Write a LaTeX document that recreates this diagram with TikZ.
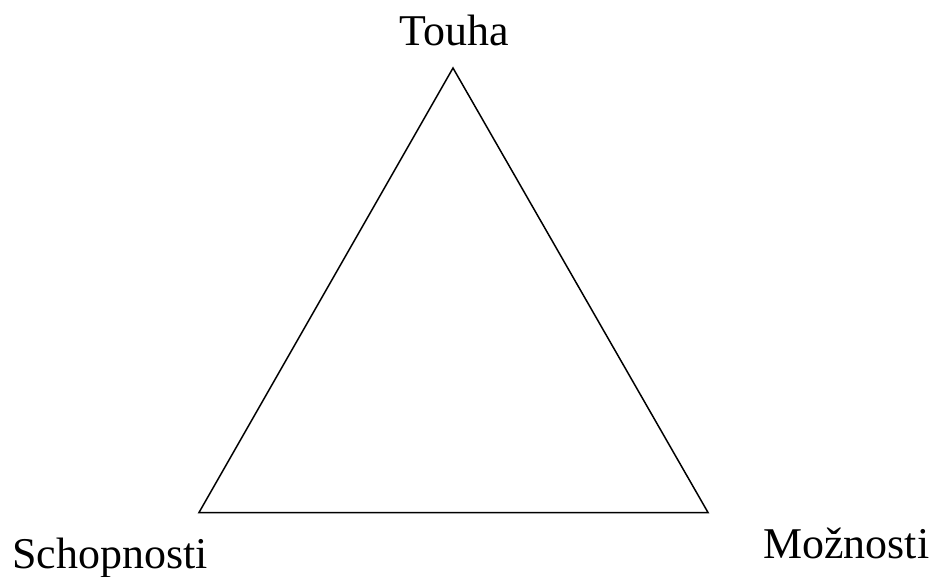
\documentclass[tikz,border=0pt]{standalone}
\usepackage{fontspec}
\setmainfont{Liberation Serif}
\usetikzlibrary{positioning}

\begin{document}
\begin{tikzpicture}[x=0.02cm, y=-0.02cm,
    vertexlabel/.style={inner sep=0pt, font=\fontsize{25}{30}\selectfont}]
  \useasboundingbox (0,0) rectangle (935,577);
  % vertices of the triangle
  \coordinate (top) at (453,68);
  \coordinate (left) at (199,512.5);
  \coordinate (right) at (708,512.5);
  \draw[line width=0.85pt, line join=miter] (top) -- (right) -- (left) -- cycle;
  % labels
  \node[vertexlabel, anchor=base] (touha) at (454,46) {Touha};
  \node[vertexlabel, anchor=base west] (schopnosti) at (12,568) {Schopnosti};
  \node[vertexlabel, anchor=base west] (moznosti) at (763,558) {Možnosti};
\end{tikzpicture}
\end{document}
